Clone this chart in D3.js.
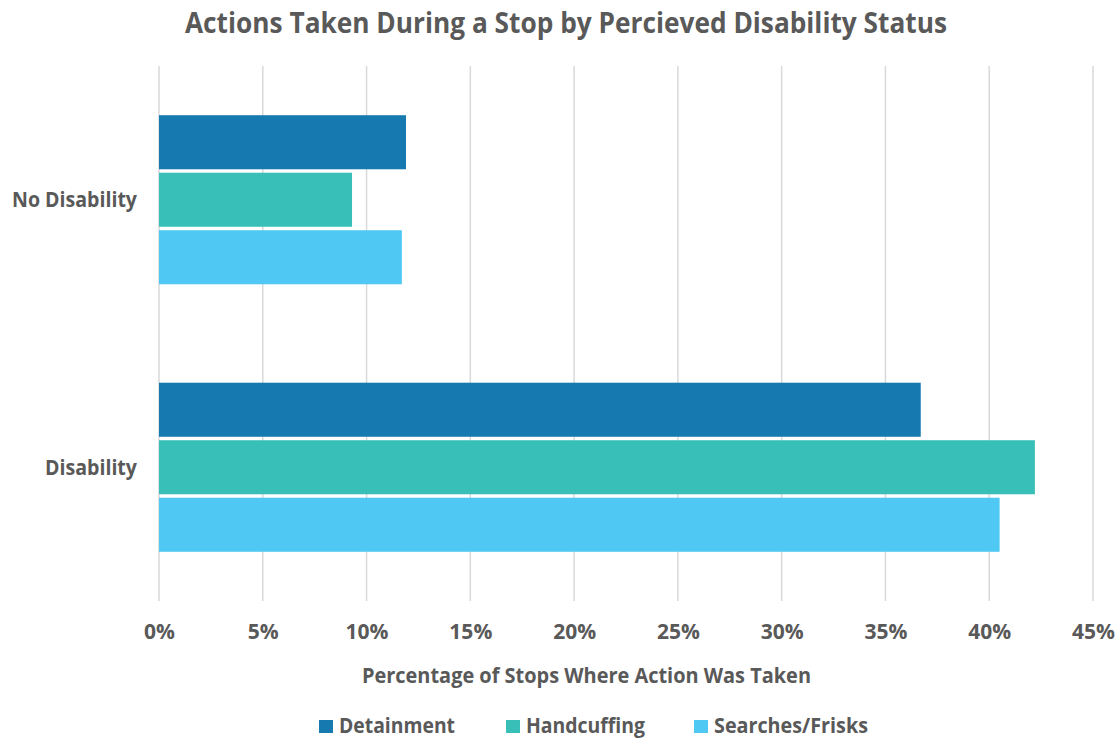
<!DOCTYPE html>
<html>
<head>
<meta charset="utf-8">
<script src="https://cdn.jsdelivr.net/npm/d3@7"></script>
<style>
  body { margin: 0; background: #fff; }
  text { font-family: "Open Sans", sans-serif; font-weight: bold; fill: #595959; }
</style>
</head>
<body>
<div id="chart"></div>
<script>
// data
var categories = ["No Disability", "Disability"];
var actions = ["Detainment", "Handcuffing", "Searches/Frisks"];
var detainment = [11.9, 36.7];
var handcuffing = [9.3, 42.2];
var searches = [11.7, 40.5];
var tickValues = [0, 5, 10, 15, 20, 25, 30, 35, 40, 45];
var colors = ["#1679af", "#38bfb8", "#4fc8f3"];

var series = [detainment, handcuffing, searches];

var W = 1117, H = 740;
var margin = {top: 66, right: 24, bottom: 139, left: 159};
var width = W - margin.left - margin.right,
    height = H - margin.top - margin.bottom;

var svg = d3.select("#chart").append("svg")
    .attr("width", W)
    .attr("height", H);

var g = svg.append("g")
    .attr("transform", "translate(" + margin.left + "," + margin.top + ")");

// x scale: 0..45%
var x = d3.scaleLinear().domain([0, 45]).range([0, 934]);

// category bands
var y0 = d3.scaleBand().domain(categories).range([0, height])
    .paddingInner(0.368).paddingOuter(0.184);
var y1 = d3.scaleBand().domain(actions).range([0, y0.bandwidth()])
    .paddingInner(0.06);

// gridlines
g.selectAll(".grid")
  .data(tickValues)
  .enter().append("line")
    .attr("class", "grid")
    .attr("x1", function(d) { return x(d); })
    .attr("x2", function(d) { return x(d); })
    .attr("y1", 0)
    .attr("y2", height)
    .attr("stroke", "#d9d9d9")
    .attr("stroke-width", 1.5);

// bars
var groups = g.selectAll(".cat")
  .data(categories)
  .enter().append("g")
    .attr("class", "cat")
    .attr("transform", function(d) { return "translate(0," + y0(d) + ")"; });

groups.selectAll("rect")
  .data(function(d, i) {
    return actions.map(function(a, j) { return {action: a, value: series[j][i], k: j}; });
  })
  .enter().append("rect")
    .attr("x", x(0))
    .attr("y", function(d) { return y1(d.action); })
    .attr("height", y1.bandwidth())
    .attr("width", function(d) { return x(d.value) - x(0); })
    .attr("fill", function(d) { return colors[d.k]; });

// x axis labels
var xAxis = d3.axisBottom(x)
    .tickValues(tickValues)
    .tickFormat(function(d) { return d + "%"; })
    .tickSize(0)
    .tickPadding(0);
var xg = g.append("g")
    .attr("transform", "translate(0," + height + ")")
    .call(xAxis);
xg.select(".domain").remove();
xg.selectAll("text")
    .attr("dy", null)
    .attr("y", 38)
    .style("font-size", "21px")
    .attr("fill", "#595959");

// y axis labels
var catW = {"No Disability": 125, "Disability": 92};
var yAxis = d3.axisLeft(y0).tickSize(0).tickPadding(22);
var yg = g.append("g").call(yAxis);
yg.select(".domain").remove();
yg.selectAll("text")
    .attr("dy", "0.35em")
    .attr("textLength", function(d) { return catW[d]; })
    .attr("lengthAdjust", "spacingAndGlyphs")
    .style("font-size", "21px")
    .attr("fill", "#595959");

// title
svg.append("text")
    .attr("x", 566)
    .attr("y", 33)
    .attr("text-anchor", "middle")
    .attr("textLength", 762)
    .attr("lengthAdjust", "spacingAndGlyphs")
    .style("font-size", "28px")
    .text("Actions Taken During a Stop by Percieved Disability Status");

// axis title
svg.append("text")
    .attr("x", 586.5)
    .attr("y", 683)
    .attr("text-anchor", "middle")
    .attr("textLength", 449)
    .attr("lengthAdjust", "spacingAndGlyphs")
    .style("font-size", "21px")
    .text("Percentage of Stops Where Action Was Taken");

// legend
var legendX = [319, 506, 694];
var legendW = [116, 119, 154];
var legend = svg.selectAll(".legend")
  .data(actions)
  .enter().append("g")
    .attr("class", "legend")
    .attr("transform", function(d, i) { return "translate(" + legendX[i] + ",720)"; });
legend.append("rect")
    .attr("width", 14)
    .attr("height", 13)
    .attr("fill", function(d, i) { return colors[i]; });
legend.append("text")
    .attr("x", 20)
    .attr("y", 13)
    .attr("textLength", function(d, i) { return legendW[i]; })
    .attr("lengthAdjust", "spacingAndGlyphs")
    .style("font-size", "21px")
    .text(function(d) { return d; });
</script>
</body>
</html>
